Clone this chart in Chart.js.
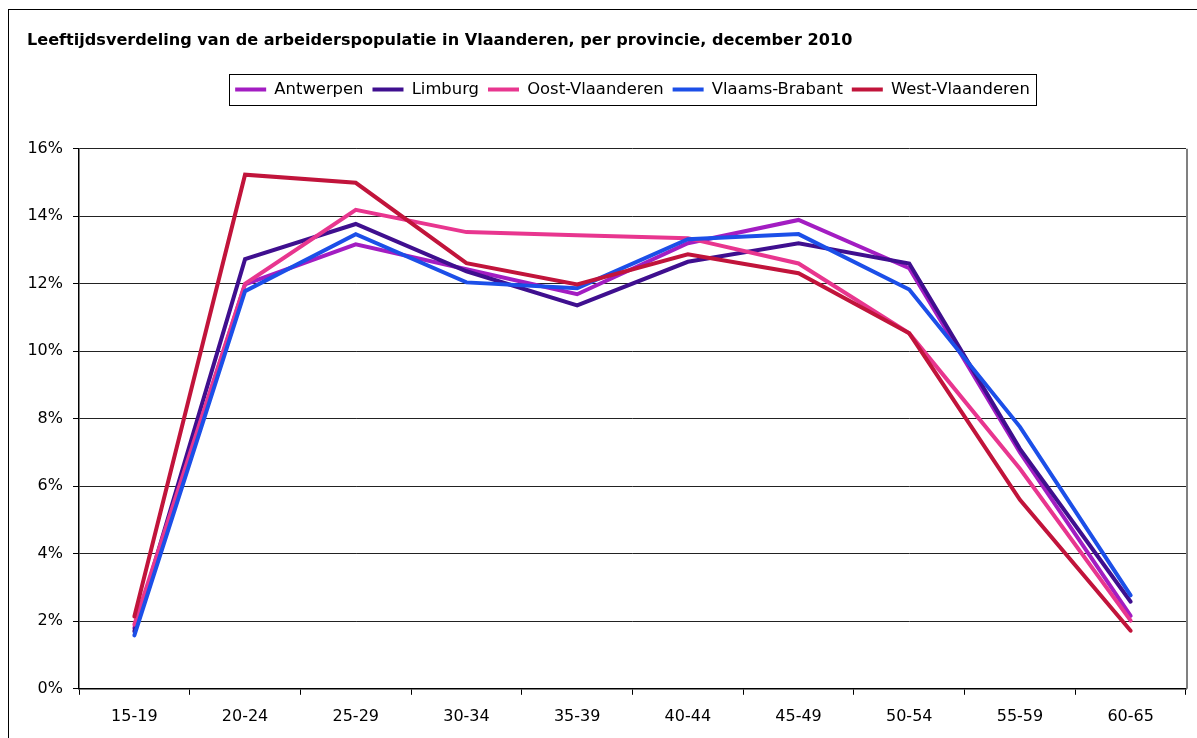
<!DOCTYPE html>
<html>
<head>
<meta charset="utf-8">
<script src="https://cdn.jsdelivr.net/npm/chart.js@4.4.1/dist/chart.umd.min.js"></script>
<style>
html,body{margin:0;padding:0;background:#fff;}
#wrap{position:absolute;left:0;top:0;width:1197px;height:738px;}
</style>
</head>
<body>
<div id="wrap"><canvas id="c" width="1197" height="738"></canvas></div>
<script>
const titleText = 'Leeftijdsverdeling van de arbeiderspopulatie in Vlaanderen, per provincie, december 2010';
const categories = ['15-19','20-24','25-29','30-34','35-39','40-44','45-49','50-54','55-59','60-65'];
const seriesNames = ['Antwerpen','Limburg','Oost-Vlaanderen','Vlaams-Brabant','West-Vlaanderen'];
const antwerpen      = [1.80, 11.98, 13.17, 12.43, 11.69, 13.20, 13.89, 12.46, 7.00, 2.16];
const limburg        = [1.70, 12.73, 13.77, 12.37, 11.36, 12.65, 13.20, 12.60, 7.11, 2.58];
const oostVlaanderen = [1.90, 12.00, 14.19, 13.53, 13.44, 13.35, 12.60, 10.53, 6.52, 2.02];
const vlaamsBrabant  = [1.58, 11.78, 13.47, 12.04, 11.87, 13.32, 13.47, 11.83, 7.76, 2.77];
const westVlaanderen = [2.14, 15.23, 14.99, 12.61, 11.98, 12.87, 12.31, 10.53, 5.60, 1.72];
const yTicks = [0, 2, 4, 6, 8, 10, 12, 14, 16];
const colors = ['#A31DC2', '#3F0F8F', '#E8368F', '#1C4FE8', '#C1143B'];
const seriesValues = [antwerpen, limburg, oostVlaanderen, vlaamsBrabant, westVlaanderen];

const FONT = '"DejaVu Sans", Verdana, sans-serif';

const frame = {
  id: 'frame',
  beforeLayout(chart) {
    const lg = chart.legend;
    if (lg && !lg._extraPatched) {
      const orig = lg.fit.bind(lg);
      lg.fit = function () { orig(); this.height += 41; };
      lg._extraPatched = true;
    }
  },
  afterLayout(chart) {
    const lg = chart.legend;
    const a = chart.chartArea;
    if (lg) { lg.left = a.left; lg.right = a.right; lg.width = a.right - a.left; }
  },
  beforeDraw(chart) {
    const ctx = chart.ctx;
    ctx.save();
    ctx.fillStyle = '#fff';
    ctx.fillRect(0, 0, chart.width, chart.height);
    ctx.strokeStyle = '#000';
    ctx.lineWidth = 1;
    ctx.strokeRect(8.5, 9.5, 1300, 900);
    ctx.restore();
  },
  afterDraw(chart) {
    const ctx = chart.ctx;
    const a = chart.chartArea;
    ctx.save();
    ctx.strokeStyle = '#808080';
    ctx.lineWidth = 2;
    ctx.beginPath();
    ctx.moveTo(Math.round(a.right) + 1, a.top);
    ctx.lineTo(Math.round(a.right) + 1, a.bottom);
    ctx.stroke();
    const lg = chart.legend;
    if (lg && lg.legendHitBoxes && lg.legendHitBoxes.length) {
      let minX = Infinity, maxX = -Infinity, minY = Infinity, maxY = -Infinity;
      lg.legendHitBoxes.forEach(b => {
        minX = Math.min(minX, b.left); maxX = Math.max(maxX, b.left + b.width);
        minY = Math.min(minY, b.top); maxY = Math.max(maxY, b.top + b.height);
      });
      ctx.strokeStyle = '#000';
      ctx.lineWidth = 1;
      const cy = (minY + maxY) / 2;
      const l = Math.round(minX - 6) + 0.5, r = Math.round(maxX + 6) + 0.5;
      const t = Math.round(cy - 15.5) + 0.5;
      ctx.strokeRect(l, t, r - l, 31);
    }
    ctx.restore();
  }
};

new Chart(document.getElementById('c'), {
  type: 'line',
  data: {
    labels: categories,
    datasets: seriesNames.map((n, i) => ({
      label: n,
      data: seriesValues[i],
      borderColor: colors[i],
      backgroundColor: colors[i],
      borderWidth: 4,
      pointRadius: 0,
      pointHoverRadius: 0,
      tension: 0,
      fill: false,
      borderCapStyle: 'round',
      borderJoinStyle: 'miter',
      order: seriesNames.length - i
    }))
  },
  options: {
    responsive: false,
    animation: false,
    devicePixelRatio: 1,
    layout: { padding: { left: 27, right: 11, top: 0, bottom: 0 } },
    plugins: {
      tooltip: { enabled: false },
      title: {
        display: true,
        text: titleText,
        align: 'start',
        color: '#000',
        font: { family: FONT, size: 16.1, weight: 'bold' },
        padding: { top: 31, bottom: 22 }
      },
      legend: {
        display: true,
        position: 'top',
        align: 'center',
        labels: {
          color: '#000',
          font: { family: FONT, size: 16.4 },
          boxWidth: 31,
          boxHeight: 4,
          padding: 9,
          sort: (a, b) => a.datasetIndex - b.datasetIndex,
          generateLabels(chart) {
            return chart.data.datasets.map((d, i) => ({
              text: d.label,
              fillStyle: d.borderColor,
              strokeStyle: d.borderColor,
              lineWidth: 0,
              datasetIndex: i,
              hidden: false,
              fontColor: '#000'
            }));
          }
        }
      }
    },
    scales: {
      x: {
        offset: true,
        grid: { display: true, drawOnChartArea: false, offset: true, tickLength: 6, color: '#000', tickColor: '#000' },
        border: { display: true, color: '#000', width: 1.5 },
        ticks: { color: '#000', font: { family: FONT, size: 16 }, padding: 12, maxRotation: 0, autoSkip: false }
      },
      y: {
        min: 0,
        max: 16,
        afterBuildTicks(scale) { scale.ticks = yTicks.map(v => ({ value: v })); },
        afterFit(scale) { scale.width = 52; },
        grid: { color: '#222', lineWidth: 1, tickLength: 6, tickColor: '#000' },
        border: { display: true, color: '#000', width: 1.5 },
        ticks: { color: '#000', font: { family: FONT, size: 16 }, padding: 10, callback: v => v + '%' }
      }
    }
  },
  plugins: [frame]
});
</script>
</body>
</html>
